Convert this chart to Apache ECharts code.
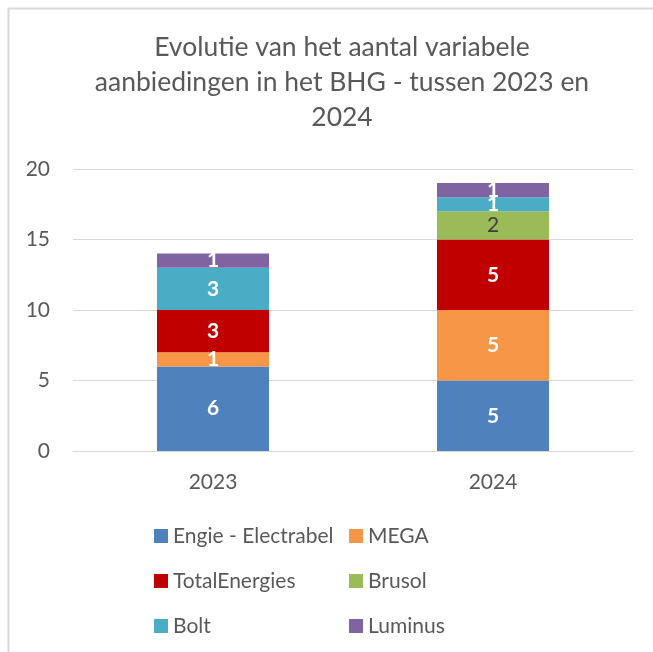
<!DOCTYPE html>
<html>
<head>
<meta charset="utf-8">
<script src="https://cdn.jsdelivr.net/npm/echarts@6/dist/echarts.min.js"></script>
<style>
html, body { margin: 0; padding: 0; background: #fff; }
#chart { width: 653px; height: 652px; }
</style>
</head>
<body>
<div id="chart"></div>
<script>
// data
var years = ['2023', '2024'];
var seriesNames = ['Engie - Electrabel', 'MEGA', 'TotalEnergies', 'Brusol', 'Bolt', 'Luminus'];
var engie = [6, 5];
var mega = [1, 5];
var total = [3, 5];
var brusol = [0, 2];
var bolt = [3, 1];
var luminus = [1, 1];
var yTicks = [0, 5, 10, 15, 20];

var colors = ['#4f81bd', '#f79646', '#c00000', '#9bbb59', '#4bacc6', '#8064a2'];
var values = [engie, mega, total, brusol, bolt, luminus];
var fontName = 'Lato';

var chart = echarts.init(document.getElementById('chart'));

var seriesArr = [];
for (var i = 0; i < seriesNames.length; i++) {
	seriesArr.push({
		name: seriesNames[i],
		type: 'bar',
		stack: 'total',
		barWidth: 112,
		data: values[i],
		itemStyle: { color: colors[i] },
		label: {
			show: true,
			position: 'inside',
			fontFamily: fontName,
			fontSize: 21,
			fontWeight: i == 3 ? 'normal' : 'bold',
			color: i == 3 ? '#404040' : '#ffffff',
			formatter: function (p) {
				return p.value ? p.value : '';
			}
		}
	});
}

var legendText = { fontFamily: fontName, fontSize: 21, color: '#595959', lineHeight: 22 };

var option = {
	animation: false,
	title: {
		text: 'Evolutie van het aantal variabele\naanbiedingen in het BHG - tussen 2023 en\n2024',
		left: 337,
		top: 25,
		textAlign: 'center',
		textStyle: {
			fontFamily: fontName,
			fontSize: 26.5,
			fontWeight: 'normal',
			color: '#595959',
			lineHeight: 35
		}
	},
	graphic: [{
		type: 'rect',
		shape: { x: 8.5, y: 8.5, width: 700, height: 700 },
		style: { fill: 'none', stroke: '#d9d9d9', lineWidth: 2 },
		silent: true
	}],
	legend: [{
		orient: 'vertical',
		left: 149,
		top: 520,
		itemWidth: 14,
		itemHeight: 14,
		itemGap: 23,
		icon: 'rect',
		data: [seriesNames[0], seriesNames[2], seriesNames[4]],
		textStyle: legendText
	}, {
		orient: 'vertical',
		left: 344,
		top: 520,
		itemWidth: 14,
		itemHeight: 14,
		itemGap: 23,
		icon: 'rect',
		data: [seriesNames[1], seriesNames[3], seriesNames[5]],
		textStyle: legendText
	}],
	grid: {
		left: 73,
		right: 20,
		top: 169,
		bottom: 201
	},
	xAxis: {
		type: 'category',
		data: years,
		axisLine: { lineStyle: { color: '#d9d9d9', width: 1 } },
		axisTick: { show: false },
		axisLabel: {
			fontFamily: fontName,
			fontSize: 21,
			color: '#595959',
			margin: 21
		}
	},
	yAxis: {
		type: 'value',
		min: yTicks[0],
		max: yTicks[yTicks.length - 1],
		interval: 5,
		axisLine: { show: false },
		axisTick: { show: false },
		splitLine: { lineStyle: { color: '#d9d9d9', width: 1 } },
		axisLabel: {
			fontFamily: fontName,
			fontSize: 21,
			color: '#595959',
			margin: 23
		}
	},
	series: seriesArr
};

chart.setOption(option);
</script>
</body>
</html>
